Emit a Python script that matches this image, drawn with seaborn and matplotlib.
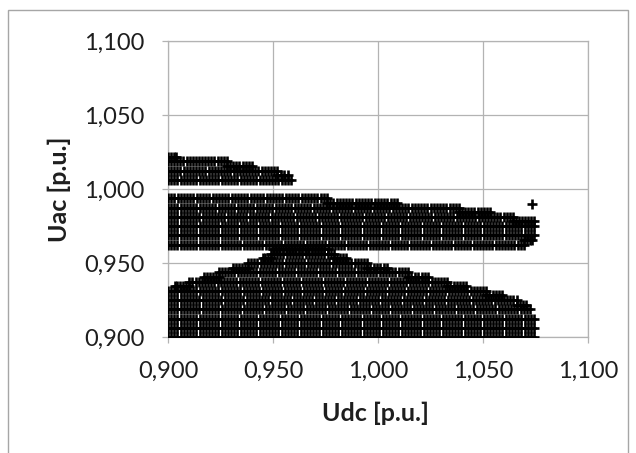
import numpy as np
import pandas as pd
import seaborn as sns
import matplotlib.pyplot as plt
from matplotlib.patches import Rectangle

# operating points: every segment is one Uac level swept over Udc (from -> to)
seg_uac = [
    # lower region
    0.900000, 0.906250, 0.912500, 0.918750, 0.921875, 0.925000, 0.928125, 0.931250,
    0.934375, 0.934375, 0.937500, 0.940625, 0.940625, 0.943750, 0.946875, 0.946875,
    0.950000, 0.953125, 0.953125, 0.956250, 0.959375,
    # middle band
    0.962500, 0.965625, 0.968750, 0.975000, 0.978125, 0.981250, 0.984375, 0.987500,
    0.990625, 0.993750,
    # upper left region
    1.006250, 1.009375, 1.012500, 1.015625, 1.018750, 1.021875,
]
seg_from = [
    0.9000, 0.9000, 0.9000, 0.9000, 1.0660, 0.9000, 1.0516, 0.9000,
    0.9031, 1.0330, 0.9101, 0.9170, 1.0143, 0.9241, 0.9311, 0.9948,
    0.9381, 0.9451, 0.9790, 0.9490, 0.9500,
    0.9000, 1.0695, 0.9000, 0.9000, 1.0643, 0.9000, 1.0386, 0.9000,
    0.9757, 0.9000,
    0.9000, 0.9520, 0.9000, 0.9280, 0.9000, 0.9000,
]
seg_to = [
    1.0743, 1.0743, 1.0743, 1.0724, 1.0706, 1.0660, 1.0590, 1.0516,
    0.9101, 1.0420, 1.0330, 0.9241, 1.0240, 1.0143, 0.9381, 1.0043,
    0.9948, 0.9490, 0.9850, 0.9790, 0.9760,
    1.0695, 1.0735, 1.0743, 1.0743, 1.0743, 1.0643, 1.0533, 1.0386,
    1.0090, 0.9757,
    0.9586, 0.9570, 0.9520, 0.9400, 0.9280, 0.9040,
]
udc_step = 0.0015

# one stray point right of the middle band
stray_udc = [1.0733]
stray_uac = [0.9899]

ticks = [0.900, 0.950, 1.000, 1.050, 1.100]
tick_labels = ["0,900", "0,950", "1,000", "1,050", "1,100"]

pts = []
for uac, a, b in zip(seg_uac, seg_from, seg_to):
    n = int(round((b - a) / udc_step)) + 1
    for udc in np.linspace(a, b, max(n, 2)):
        pts.append((udc, uac))
for udc, uac in zip(stray_udc, stray_uac):
    pts.append((udc, uac))
df = pd.DataFrame(pts, columns=["Udc", "Uac"])

sns.set_style("white")
plt.rcParams['font.family'] = ['Lato', 'DejaVu Sans']

fig = plt.figure(figsize=(6.36, 4.53), dpi=100)
ax = fig.add_axes([168 / 636, 116 / 453, 420 / 636, 296 / 453])

sns.scatterplot(data=df, x="Udc", y="Uac", marker="+", s=56, color="black",
                linewidth=1.9, ax=ax, legend=False, zorder=3)

ax.set_xlim(0.9, 1.1)
ax.set_ylim(0.9, 1.1)
ax.set_xticks(ticks)
ax.set_xticklabels(tick_labels)
ax.set_yticks(ticks)
ax.set_yticklabels(tick_labels)
ax.grid(True, color="#b3b3b3", linewidth=0.9)
ax.set_axisbelow(True)
for sp in ax.spines.values():
    sp.set_color("#b3b3b3")
    sp.set_linewidth(0.9)
ax.tick_params(axis="both", direction="out", length=4, width=0.9, color="#b3b3b3",
               labelsize=17, labelcolor="#1e1e1e", pad=13)
ax.tick_params(axis="both", bottom=True, left=True)

ax.set_xlabel("Udc [p.u.]", fontsize=18, fontweight="bold", color="#1e1e1e")
ax.set_ylabel("Uac [p.u.]", fontsize=18, fontweight="bold", color="#1e1e1e")
ax.xaxis.set_label_coords(0.495, -0.257)
ax.xaxis.label.set_va("center")
ax.yaxis.set_label_coords(-0.258, 0.5)
ax.yaxis.label.set_va("center")

# chart area frame
fig.add_artist(Rectangle((8 / 636, -0.05), 620 / 636, 1.05 - 10 / 453, transform=fig.transFigure,
                         fill=False, edgecolor="#a6a6a6", linewidth=1))

fig.savefig("out.png", dpi=100)
plt.close(fig)
